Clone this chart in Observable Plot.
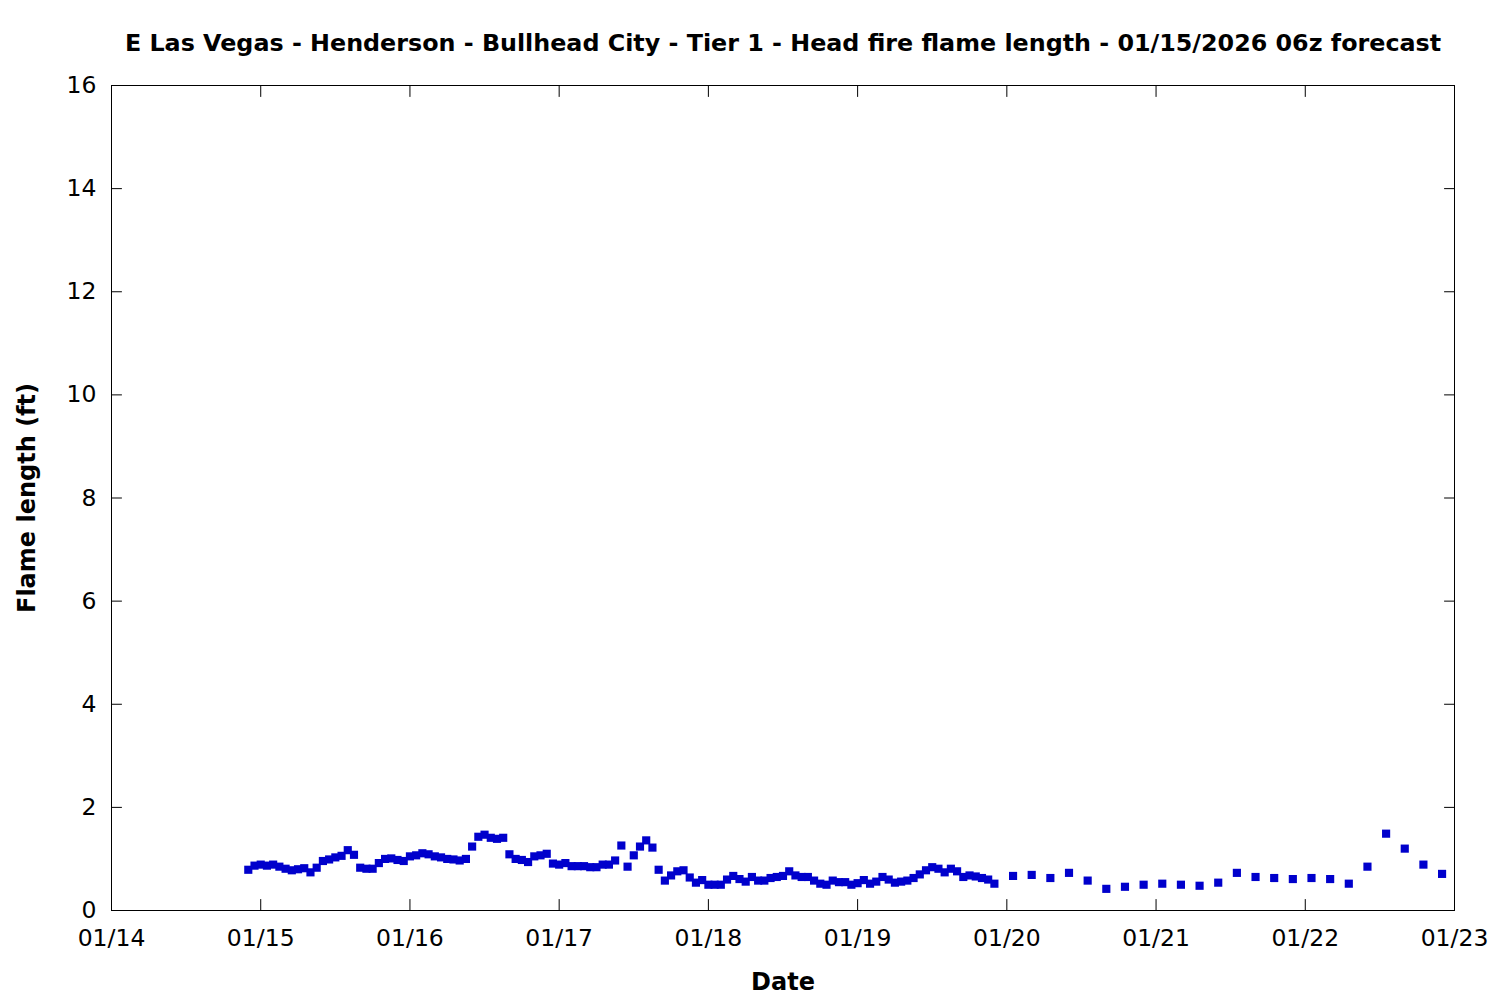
<!DOCTYPE html>
<html>
<head>
<meta charset="utf-8">
<script src="https://cdn.jsdelivr.net/npm/d3@7"></script>
<script src="https://cdn.jsdelivr.net/npm/@observablehq/plot@0.6"></script>
<style>
  html, body { margin: 0; padding: 0; background: #ffffff; }
</style>
</head>
<body>
<div id="chart"></div>
<script>
const title = "E Las Vegas - Henderson - Bullhead City - Tier 1 - Head fire flame length - 01/15/2026 06z forecast";
const xLabel = "Date";
const yLabel = "Flame length (ft)";

// Hourly forecast values, starting 01/14 22z (hours after 01/14 00z)
const hourlyStartHour = 22;
const hourlyValues = [
  0.79, 0.87, 0.89, 0.87, 0.89, 0.85, 0.81, 0.78, 0.80, 0.82, 0.74, 0.83,
  0.96, 0.99, 1.03, 1.06, 1.17, 1.08, 0.83, 0.81, 0.81, 0.92, 1.00, 1.01,
  0.98, 0.96, 1.05, 1.07, 1.11, 1.09, 1.05, 1.03, 1.00, 0.99, 0.97, 1.00,
  1.24, 1.43, 1.47, 1.41, 1.39, 1.41, 1.09, 1.00, 0.98, 0.94, 1.05, 1.07, 1.10,
  0.91, 0.89, 0.92, 0.86, 0.86, 0.86, 0.84, 0.84, 0.89, 0.89, 0.97, 1.26,
  0.85, 1.07, 1.24, 1.36, 1.22, 0.79, 0.58, 0.68, 0.76, 0.78, 0.64, 0.54,
  0.59, 0.50, 0.50, 0.50, 0.60, 0.67, 0.61, 0.56, 0.65, 0.58, 0.58, 0.63,
  0.65, 0.67, 0.76, 0.68, 0.65, 0.65, 0.58, 0.52, 0.50, 0.58, 0.55, 0.55,
  0.50, 0.53, 0.59, 0.52, 0.56, 0.65, 0.60, 0.54, 0.56, 0.58, 0.63, 0.70,
  0.78, 0.84, 0.81, 0.74, 0.81, 0.76, 0.65, 0.68, 0.66, 0.63, 0.60, 0.52
];

// 3-hourly forecast values, starting 01/20 01z
const threeHourlyStartHour = 145;
const threeHourlyValues = [
  0.67, 0.69, 0.63, 0.73, 0.58, 0.42, 0.46, 0.50, 0.52, 0.50, 0.48, 0.54,
  0.73, 0.65, 0.63, 0.61, 0.63, 0.61, 0.52, 0.85, 1.49, 1.20, 0.89, 0.71
];

const xTickLabels = ["01/14", "01/15", "01/16", "01/17", "01/18", "01/19", "01/20", "01/21", "01/22", "01/23"];
const yTicks = [0, 2, 4, 6, 8, 10, 12, 14, 16];
const forecastYear = 2026;

const HOUR = 3600 * 1000;
const t0 = Date.UTC(forecastYear, 0, 14);
const points = [
  ...hourlyValues.map((v, i) => ({ time: new Date(t0 + (hourlyStartHour + i) * HOUR), value: v })),
  ...threeHourlyValues.map((v, i) => ({ time: new Date(t0 + (threeHourlyStartHour + 3 * i) * HOUR), value: v }))
];
const parseDay = d3.utcParse("%m/%d/%Y");
const xTicks = xTickLabels.map(s => parseDay(`${s}/${forecastYear}`));

const FONT = "DejaVu Sans";
// plain tick line (no arrowhead)
const tickLine = { draw(context, l) { context.moveTo(0, 0); context.lineTo(0, -l); } };

const chart = Plot.plot({
  width: 1500,
  height: 1000,
  marginLeft: 111,
  marginRight: 46,
  marginTop: 85,
  marginBottom: 90,
  style: { fontFamily: FONT, fontSize: "24px", background: "#ffffff", color: "#000000" },
  x: { type: "utc", domain: [xTicks[0], xTicks[xTicks.length - 1]] },
  y: { domain: [0, 16] },
  marks: [
    Plot.frame({ stroke: "#000000", strokeWidth: 1 }),
    Plot.axisX(xTicks, { tickSize: 0, tickPadding: 19, tickFormat: d3.utcFormat("%m/%d"), label: null, fontSize: 23.5, fill: "#000" }),
    Plot.axisY(yTicks, { tickSize: 0, tickPadding: 15, tickFormat: d => String(d), label: null, fontSize: 23.5, fill: "#000" }),
    Plot.vector(xTicks, { x: d => d, frameAnchor: "bottom", length: 11, rotate: 0, anchor: "start", shape: tickLine, stroke: "#000", strokeWidth: 1 }),
    Plot.vector(xTicks, { x: d => d, frameAnchor: "top", length: 11, rotate: 180, anchor: "start", shape: tickLine, stroke: "#000", strokeWidth: 1 }),
    Plot.vector(yTicks, { y: d => d, frameAnchor: "left", length: 10, rotate: 90, anchor: "start", shape: tickLine, stroke: "#000", strokeWidth: 1 }),
    Plot.vector(yTicks, { y: d => d, frameAnchor: "right", length: 10, rotate: -90, anchor: "start", shape: tickLine, stroke: "#000", strokeWidth: 1 }),
    Plot.dot(points, { x: "time", y: "value", symbol: "square", r: 4.6, fill: "#0000cc", stroke: null }),
    Plot.text([title], { frameAnchor: "top", dy: -51, fontWeight: "bold", fontSize: 23.8, fill: "#000" }),
    Plot.text([xLabel], { frameAnchor: "bottom", dy: 79, fontWeight: "bold", fontSize: 24, fill: "#000" }),
    Plot.text([yLabel], { frameAnchor: "left", textAnchor: "middle", dx: -84, rotate: -90, fontWeight: "bold", fontSize: 24, fill: "#000" })
  ]
});
document.getElementById("chart").append(chart);
</script>
</body>
</html>
